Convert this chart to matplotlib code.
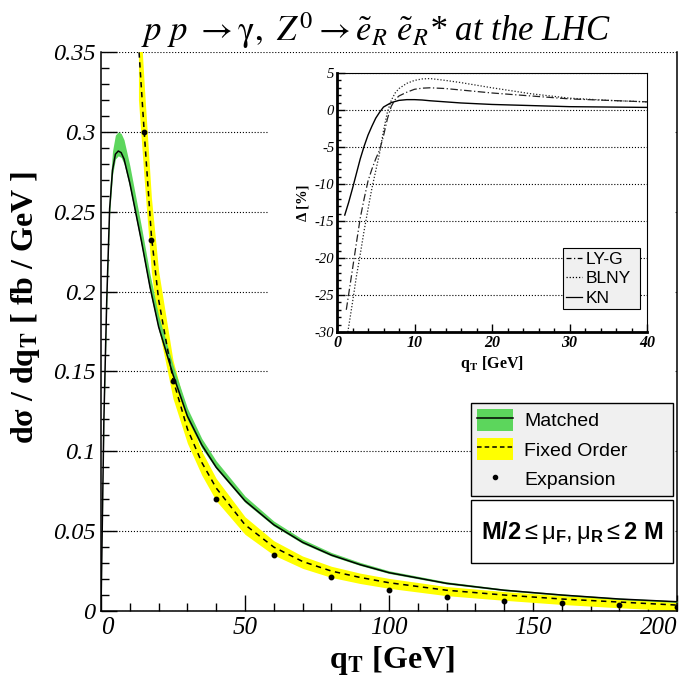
import numpy as np
import matplotlib
matplotlib.use("Agg")
import matplotlib.pyplot as plt
from matplotlib.lines import Line2D
from matplotlib.patches import Patch, Rectangle

# ---- main panel: d sigma / d qT ----
qt_match = [0, 0.5, 1, 1.5, 2, 3, 4, 5, 6, 7, 8, 10, 12, 14, 17, 20, 25, 30, 35, 40,
            50, 60, 70, 80, 90, 100, 120, 140, 160, 180, 200]
matched = [0, 0.06, 0.12, 0.158, 0.195, 0.252, 0.276, 0.286, 0.288, 0.287, 0.283, 0.268,
           0.250, 0.232, 0.203, 0.178, 0.148, 0.122, 0.104, 0.090, 0.069, 0.054, 0.043,
           0.035, 0.029, 0.024, 0.0173, 0.013, 0.010, 0.0075, 0.0058]
matched_hi = [0, 0.063, 0.125, 0.165, 0.203, 0.263, 0.288, 0.298, 0.300, 0.299, 0.295, 0.279,
              0.260, 0.241, 0.211, 0.185, 0.154, 0.127, 0.108, 0.094, 0.072, 0.0563, 0.0449,
              0.0366, 0.0304, 0.0252, 0.0183, 0.0138, 0.0107, 0.0081, 0.0063]
matched_lo = [0, 0.059, 0.118, 0.156, 0.193, 0.249, 0.273, 0.283, 0.285, 0.284, 0.280, 0.265,
              0.247, 0.229, 0.200, 0.176, 0.146, 0.120, 0.102, 0.089, 0.068, 0.0532, 0.0423,
              0.0344, 0.0285, 0.0235, 0.0169, 0.0127, 0.0097, 0.0072, 0.0054]

qt_fo = [13, 14, 15, 17.5, 20, 25, 30, 35, 40, 50, 60, 70, 80, 90, 100, 120, 140, 160, 180, 200]
fixed = [0.356, 0.328, 0.300, 0.235, 0.195, 0.145, 0.114, 0.093, 0.077, 0.054, 0.040, 0.031,
         0.025, 0.021, 0.0177, 0.013, 0.010, 0.0075, 0.0056, 0.0037]
fixed_hi = [0.392, 0.361, 0.330, 0.259, 0.213, 0.157, 0.123, 0.100, 0.083, 0.059, 0.044, 0.0344,
            0.028, 0.0237, 0.0204, 0.0153, 0.0122, 0.0096, 0.0076, 0.0055]
fixed_lo = [0.320, 0.295, 0.270, 0.212, 0.177, 0.133, 0.105, 0.085, 0.069, 0.048, 0.035, 0.0267,
            0.021, 0.0172, 0.0142, 0.0096, 0.0067, 0.0041, 0.0020, 0.0002]

qt_exp = [15, 17.5, 25, 40, 60, 80, 100, 120, 140, 160, 180, 200]
expansion = [0.300, 0.232, 0.144, 0.070, 0.035, 0.021, 0.0132, 0.009, 0.0065, 0.0048, 0.0038, 0.0027]

xticks = [0, 50, 100, 150, 200]
yticks = [0, 0.05, 0.1, 0.15, 0.2, 0.25, 0.3, 0.35]

# ---- inset: Delta [%] ----
qt_kn = [1, 1.5, 2, 2.5, 3, 3.5, 4, 4.5, 5, 5.5, 6, 7, 8, 9, 10, 11, 12, 14, 16, 18, 20, 25, 30, 35, 40]
kn = [-14.2, -12.5, -10.6, -8.6, -6.6, -4.9, -3.4, -2.2, -1.1, -0.3, 0.4, 1.0, 1.3, 1.4, 1.4,
      1.35, 1.25, 1.1, 0.95, 0.85, 0.75, 0.6, 0.45, 0.4, 0.35]
qt_lyg = [1.2, 2, 2.5, 3, 3.5, 4, 4.5, 5, 5.5, 6, 6.5, 7, 7.5, 8, 9, 10, 11, 12, 14, 16, 20, 25, 30, 35, 40]
lyg = [-27, -21.5, -18, -14.6, -12, -9.6, -8, -6.6, -5.4, -3.5, -1.2, 0.5, 1.4, 1.9, 2.4, 2.8,
       2.95, 3.0, 2.9, 2.7, 2.3, 1.9, 1.5, 1.3, 1.1]
qt_blny = [1.4, 2, 2.5, 3, 3.5, 4, 4.5, 5, 5.5, 6, 6.5, 7, 7.5, 8, 9, 10, 11, 12, 14, 16, 20, 25, 30, 35, 40]
blny = [-30, -26, -22.5, -19.5, -16.3, -13.4, -10.6, -8.2, -5.8, -2.8, -0.3, 1.3, 2.3, 2.9, 3.6,
        4.0, 4.2, 4.25, 4.0, 3.7, 3.0, 2.2, 1.6, 1.3, 1.1]

plt.rcParams['font.family'] = ['Liberation Serif', 'DejaVu Serif']
plt.rcParams['mathtext.fontset'] = 'stix'
plt.rcParams['mathtext.rm'] = 'Liberation Sans'
plt.rcParams['mathtext.bf'] = 'Liberation Sans:bold'
plt.rcParams['mathtext.it'] = 'Liberation Sans:italic'
plt.rcParams['mathtext.sf'] = 'Liberation Sans'

fig = plt.figure(figsize=(6.92, 6.84), dpi=100)
W, H = 692.0, 684.0

def fbox(x0, y0, x1, y1):
    # pixel box (top-left origin) -> figure fractions
    return [x0 / W, 1 - y1 / H, (x1 - x0) / W, (y1 - y0) / H]

ax = fig.add_axes(fbox(101, 52, 677, 611))
ax.fill_between(qt_fo, fixed_lo, fixed_hi, color='#ffff00', lw=0, zorder=2)
ax.fill_between(qt_match, matched_lo, matched_hi, color='#5cd65c', lw=0, zorder=3)
ax.plot(qt_match, matched, color='k', lw=1.1, zorder=4)
ax.plot(qt_fo, fixed, color='k', lw=1.1, ls=(0, (3.5, 3)), zorder=5)
ax.plot(qt_exp, expansion, 'o', color='k', ms=3.2, zorder=6)

ax.set_xlim(0, 200)
ax.set_ylim(0, 0.35)
ax.set_xticks(xticks, [f'{v:g}' for v in xticks], fontsize=18, fontstyle='italic')
ax.set_yticks(yticks, [f'{v:g}' for v in yticks], fontsize=17.5, fontstyle='italic')
ax.set_xticks(np.arange(0, 201, 10), minor=True)
ax.set_yticks(np.arange(0, 0.351, 0.01), minor=True)
ax.tick_params(which='both', direction='in', width=1, top=False, right=False)
ax.tick_params(which='major', length=11.5, pad=4)
ax.tick_params(which='minor', length=6)
ax.yaxis.grid(True, ls=':', color='k', lw=0.8)
ax.spines['top'].set_visible(False)
for s in ['left', 'bottom', 'right']:
    ax.spines[s].set_linewidth(1.1)

fig.text(0.543, 0.955, r'$p\ p\ \rightarrow \mathrm{\gamma},\ Z^{0}\rightarrow \tilde{e}_{R}\ \tilde{e}_{R}$* at the LHC',
         ha='center', va='center', fontsize=25, fontstyle='italic')
fig.text(0.567, 0.035, r'q$_\mathbf{T}$ [GeV]', ha='center', va='center', fontsize=23,
         fontweight='bold', math_fontfamily='stix')
fig.text(0.037, 0.55, 'dσ / dq$_\\mathbf{T}$ [ fb / GeV ]', ha='center', va='center',
         rotation=90, fontsize=23, fontweight='bold', math_fontfamily='stix')

# main legend
h_match = (Patch(facecolor='#5cd65c', edgecolor='none'), Line2D([], [], color='k', lw=1.1))
h_fixed = (Patch(facecolor='#ffff00', edgecolor='none'), Line2D([], [], color='k', lw=1.1, ls=(0, (3, 2))))
h_exp = Line2D([], [], marker='o', color='k', ls='none', ms=3)
leg = ax.legend([h_match, h_fixed, h_exp], ['Matched', 'Fixed Order', 'Expansion'],
                loc='upper left', bbox_to_anchor=fbox(471, 403, 673, 495), bbox_transform=fig.transFigure,
                mode='expand', prop={'family': 'Liberation Sans', 'size': 14}, fancybox=False,
                edgecolor='k', facecolor='#f0f0f0', framealpha=1, borderpad=0.3, labelspacing=0.4,
                handlelength=1.85, handleheight=1.35, handletextpad=0.6, borderaxespad=0)
leg.get_frame().set_linewidth(1.0)
leg.set_zorder(10)

fig.patches.append(Rectangle((471 / W, 1 - 563 / H), 202 / W, 63 / H, transform=fig.transFigure,
                             facecolor='white', edgecolor='k', lw=1.0, zorder=5))
fig.text(572 / W, 1 - 532 / H,
         r'$\mathbf{M/2}\leq\mathrm{\mu}_\mathbf{F},\mathrm{\mu}_\mathbf{R}\leq\mathbf{2\ M}$',
         ha='center', va='center', fontsize=17, math_fontfamily='custom', zorder=6)

# white pad behind inset
fig.patches.append(Rectangle((268 / W, 1 - 376 / H), 407 / W, 321 / H, transform=fig.transFigure,
                             facecolor='white', edgecolor='none', zorder=1))

axi = fig.add_axes(fbox(337, 73, 647, 332))
axi.set_zorder(2)
axi.plot(qt_lyg, lyg, color='#222222', lw=0.9, ls=(0, (6, 2, 1, 2)))
axi.plot(qt_blny, blny, color='#222222', lw=0.9, ls=(0, (1, 1.5)))
axi.plot(qt_kn, kn, color='k', lw=1.0)
axi.set_xlim(0, 40)
axi.set_ylim(-30, 5)
ixt = [0, 10, 20, 30, 40]
iyt = [-30, -25, -20, -15, -10, -5, 0, 5]
axi.set_xticks(ixt, [str(v) for v in ixt], fontsize=11.5, fontstyle='italic', fontweight='bold')
axi.set_yticks(iyt, [str(v) for v in iyt], fontsize=10.5, fontstyle='italic')
axi.set_xticks(np.arange(0, 41, 2), minor=True)
axi.set_yticks(np.arange(-30, 6, 1), minor=True)
axi.tick_params(which='both', direction='in', width=1, top=False, right=False, pad=2)
axi.tick_params(which='major', length=6)
axi.tick_params(which='minor', length=3)
axi.yaxis.grid(True, ls=':', color='k', lw=0.8)
axi.spines['left'].set_linewidth(2)
axi.spines['bottom'].set_linewidth(2)
axi.spines['top'].set_linewidth(0.8)
axi.spines['right'].set_linewidth(0.8)
axi.set_xlabel(r'q$_\mathbf{T}$ [GeV]', fontsize=11.5, fontweight='bold', labelpad=2, math_fontfamily='stix')
axi.set_ylabel('Δ [%]', fontsize=10.5, fontweight='bold', labelpad=4)

ileg = axi.legend([Line2D([], [], color='k', lw=0.9, ls=(0, (4, 2, 1, 2))),
                   Line2D([], [], color='k', lw=0.9, ls=(0, (1, 1.5))),
                   Line2D([], [], color='k', lw=0.9)],
                  ['LY-G', 'BLNY', 'KN'], loc='upper left',
                  bbox_to_anchor=fbox(563, 248, 640, 321), bbox_transform=fig.transFigure,
                  mode='expand', prop={'family': 'Liberation Sans', 'size': 12.5}, fancybox=False,
                  edgecolor='k', facecolor='#f0f0f0', framealpha=1, borderpad=0.2, labelspacing=0.25,
                  handlelength=0.9, handletextpad=0.2, borderaxespad=0)
ileg.get_frame().set_linewidth(0.8)

# keep the end labels inside the frame, like the original
fig.canvas.draw()
for tick in ax.xaxis.get_major_ticks():
    txt = tick.label1.get_text()
    if txt == '0':
        tick.label1.set_horizontalalignment('left')
    elif txt == '200':
        tick.label1.set_horizontalalignment('right')

fig.savefig('out.png', dpi=100)
